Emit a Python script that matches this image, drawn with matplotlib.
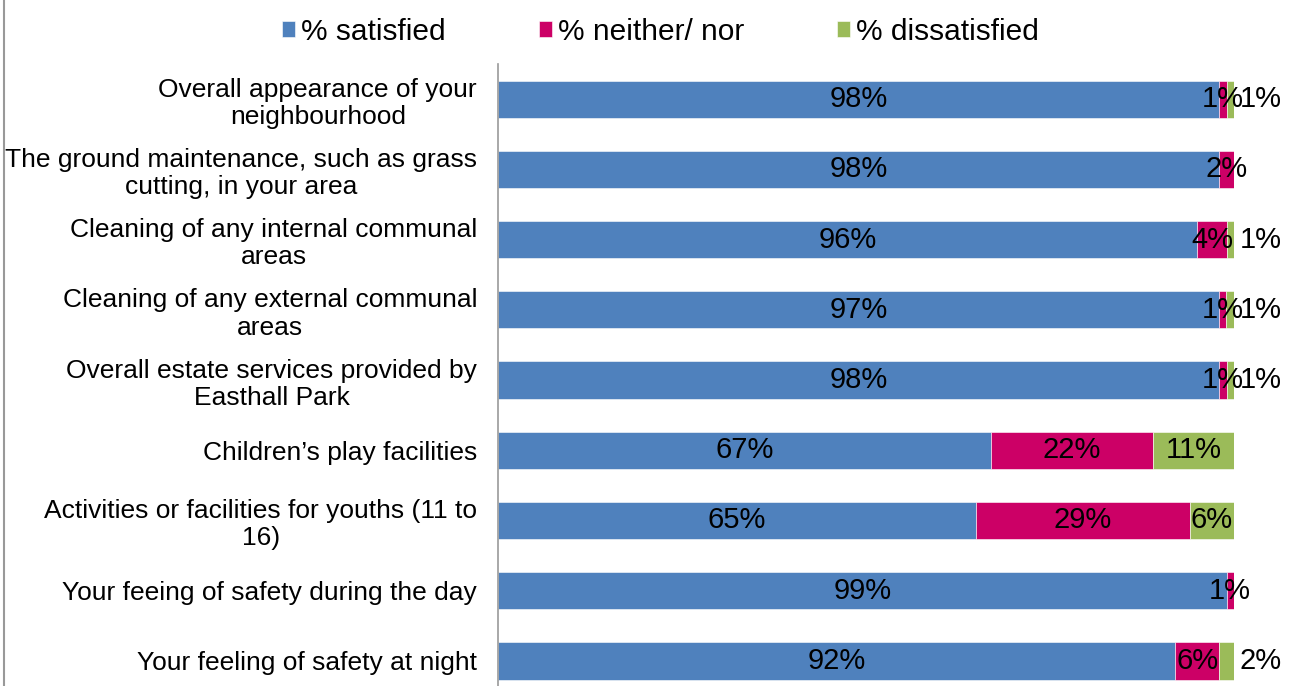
import matplotlib.pyplot as plt
import numpy as np

plt.rcParams['font.family'] = ['Liberation Sans', 'DejaVu Sans']

categories = [
    "Overall appearance of your\nneighbourhood",
    "The ground maintenance, such as grass\ncutting, in your area",
    "Cleaning of any internal communal\nareas",
    "Cleaning of any external communal\nareas",
    "Overall estate services provided by\nEasthall Park",
    "Children\u2019s play facilities",
    "Activities or facilities for youths (11 to\n16)",
    "Your feeing of safety during the day",
    "Your feeling of safety at night",
]
satisfied = [98, 98, 96, 97, 98, 67, 65, 99, 92]
neither = [1, 2, 4, 1, 1, 22, 29, 1, 6]
dissatisfied = [1, 0, 1, 1, 1, 11, 6, 0, 2]

series_names = ["% satisfied", "% neither/ nor", "% dissatisfied"]
colors = ["#4F81BD", "#CC0066", "#9BBB59"]

data = np.array([satisfied, neither, dissatisfied], dtype=float)
shares = data / data.sum(axis=0) * 100  # 100% stacked

fig = plt.figure(figsize=(12.9, 6.86), dpi=100)
ax = fig.add_axes([0.386, -0.0146, 0.5705, 0.9213])

y = np.arange(len(categories))
left = np.zeros(len(categories))
for i, (name, col) in enumerate(zip(series_names, colors)):
    ax.barh(y, shares[i], left=left, height=0.53, color=col, label=name,
            edgecolor='white', linewidth=0.4)
    for j in range(len(categories)):
        v = data[i, j]
        if v == 0:
            continue
        if i == 2 and v <= 2:
            # small dissatisfied values sit just past the bar end
            ax.text(100.8, y[j], f"{v:.0f}%", ha='left', va='center', fontsize=21)
        else:
            ax.text(left[j] + shares[i, j] / 2, y[j], f"{v:.0f}%",
                    ha='center', va='center', fontsize=21)
    left += shares[i]

ax.set_xlim(0, 100)
ax.set_ylim(len(categories) - 0.5, -0.5)
ax.set_yticks(y)
ax.set_yticklabels(categories, fontsize=19, linespacing=1.18,
                   multialignment='center')
ax.tick_params(axis='y', length=0, pad=15)
ax.set_xticks([])
for s in ['top', 'right', 'bottom']:
    ax.spines[s].set_visible(False)
ax.spines['left'].set_color('#999999')
ax.spines['left'].set_linewidth(1.2)

fig.legend(loc='center', bbox_to_anchor=(0.512, 0.954), ncol=3, frameon=False,
           fontsize=21.5, handlelength=0.45, handleheight=0.45, handletextpad=0.2,
           columnspacing=3.1)

# outer border on the left edge
fig.add_artist(plt.Line2D([0.003, 0.003], [0, 1], color='#999999', lw=1.5,
                          transform=fig.transFigure))

fig.savefig('out.png', dpi=100)
